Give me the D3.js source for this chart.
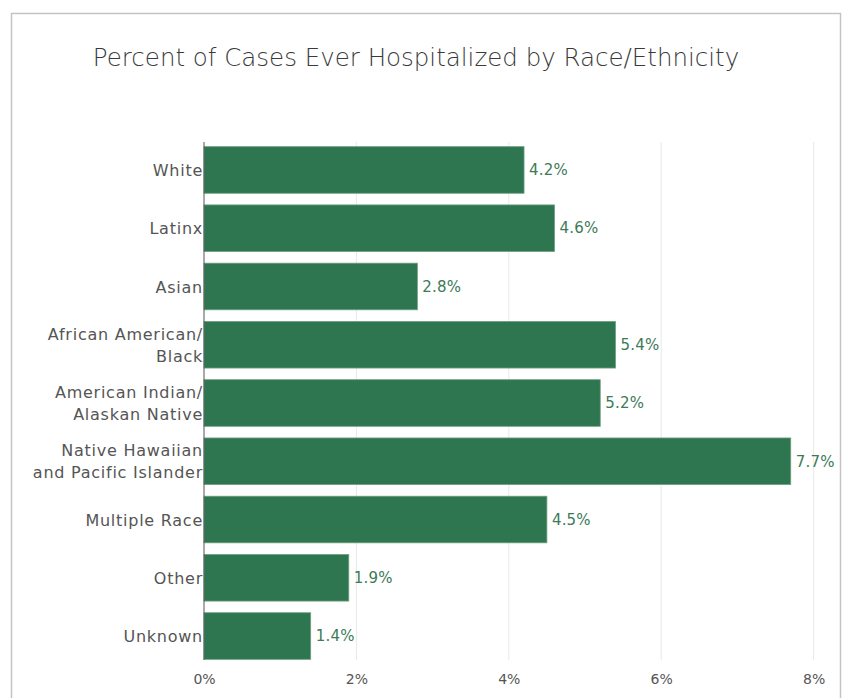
<!DOCTYPE html>
<html>
<head>
<meta charset="utf-8">
<script src="https://cdn.jsdelivr.net/npm/d3@7"></script>
<style>
  html, body { margin: 0; padding: 0; background: #fff; }
  svg { display: block; font-family: "DejaVu Sans", sans-serif; }
</style>
</head>
<body>
<svg id="chart" width="849" height="698"></svg>
<script>
// Hospitalization share by race/ethnicity
const categories = [
  ["White"],
  ["Latinx"],
  ["Asian"],
  ["African American/", "Black"],
  ["American Indian/", "Alaskan Native"],
  ["Native Hawaiian", "and Pacific Islander"],
  ["Multiple Race"],
  ["Other"],
  ["Unknown"]
];
const values = [4.2, 4.6, 2.8, 5.4, 5.2, 7.7, 4.5, 1.9, 1.4];
const tickValues = [0, 2, 4, 6, 8];
const title = "Percent of Cases Ever Hospitalized by Race/Ethnicity";

const svg = d3.select("#chart");
const barColor = "#2e7650";
const labelColor = "#555";

// Panel frame
svg.append("rect")
  .attr("x", 11.5).attr("y", 13.5)
  .attr("width", 829).attr("height", 700)
  .attr("fill", "#fff")
  .attr("stroke", "#c4c4c4").attr("stroke-width", 1.5);

svg.append("text")
  .attr("x", 416).attr("y", 66)
  .attr("text-anchor", "middle")
  .attr("font-size", 24.5)
  .attr("font-weight", 200)
  .attr("fill", "#3a3a3a")
  .text(title);

const x = d3.scaleLinear().domain([0, 8]).range([204, 813.6]);
const keys = categories.map(c => c.join(" "));
const y = d3.scaleBand().domain(keys).range([142, 664])
  .paddingInner(0.2).paddingOuter(0.08);

// Vertical gridlines
svg.append("g").selectAll("line")
  .data(tickValues.filter(t => t > 0))
  .join("line")
  .attr("x1", d => x(d)).attr("x2", d => x(d))
  .attr("y1", 142).attr("y2", 660)
  .attr("stroke", "#e8e8e8").attr("stroke-width", 1);

// Bars
svg.append("g").selectAll("rect")
  .data(values)
  .join("rect")
  .attr("x", x(0))
  .attr("y", (d, i) => y(keys[i]))
  .attr("width", d => x(d) - x(0))
  .attr("height", y.bandwidth())
  .attr("fill", barColor)
  .attr("stroke", "#6f9e82").attr("stroke-width", 0.8);

// Value labels
svg.append("g").selectAll("text")
  .data(values)
  .join("text")
  .attr("x", d => x(d) + 5)
  .attr("y", (d, i) => y(keys[i]) + y.bandwidth() / 2)
  .attr("dy", "0.35em")
  .attr("font-size", 15)
  .attr("letter-spacing", 0.2)
  .attr("fill", "#3d7a58")
  .text(d => d.toFixed(1) + "%");

// Category labels (wrapped over up to two lines)
const catG = svg.append("g");
categories.forEach((lines, i) => {
  const cy = y(keys[i]) + y.bandwidth() / 2;
  const t = catG.append("text")
    .attr("text-anchor", "end")
    .attr("font-size", 16)
    .attr("letter-spacing", 0.75)
    .attr("fill", labelColor);
  lines.forEach((ln, j) => {
    t.append("tspan")
      .attr("x", 203)
      .attr("y", cy + (j - (lines.length - 1) / 2) * 22)
      .attr("dy", "0.38em")
      .text(ln);
  });
});

// Bottom axis with tick labels only
const xAxis = d3.axisBottom(x).tickValues(tickValues)
  .tickFormat(d => d + "%").tickSize(0).tickPadding(8);
const ax = svg.append("g").attr("transform", "translate(0,666)").call(xAxis);
ax.select(".domain").remove();
ax.selectAll("text").attr("font-size", 14).attr("fill", labelColor)
  .attr("font-family", "'DejaVu Sans', sans-serif");

// Category axis line
svg.append("line")
  .attr("x1", 204).attr("x2", 204)
  .attr("y1", 142).attr("y2", 660)
  .attr("stroke", "#555").attr("stroke-width", 1);
</script>
</body>
</html>
